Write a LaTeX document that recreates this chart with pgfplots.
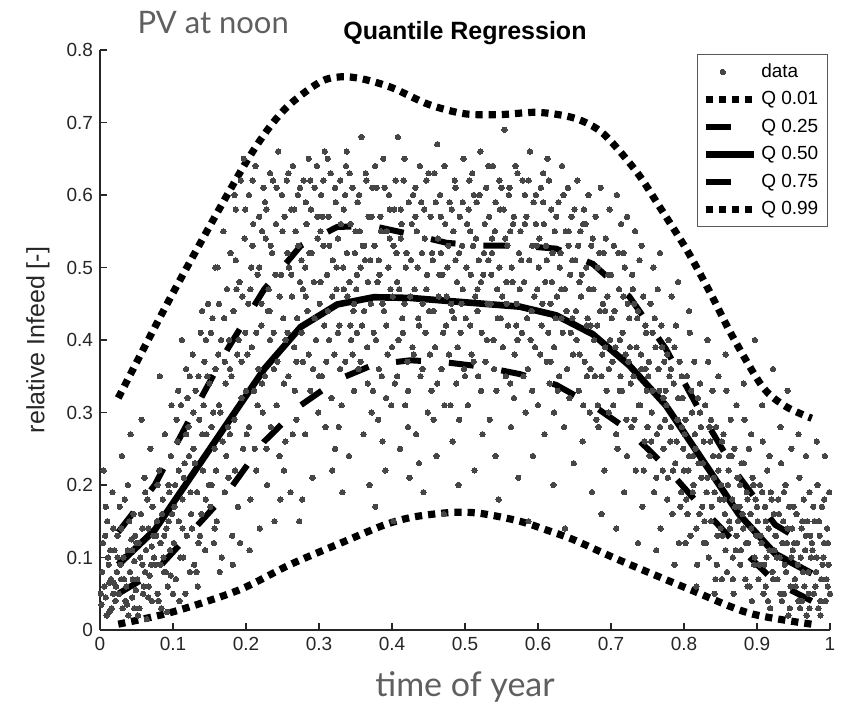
\documentclass[border=0pt]{standalone}
\usepackage{fontspec}
\setmainfont{Liberation Sans}
\newfontfamily\thinfont{Lato}
\usepackage{pgfplots}
\usepackage{pgfplotstable}
\pgfplotsset{compat=1.18}
\pgfplotsset{qleg/.style={legend image code/.code={\draw[##1] (0pt,0pt) -- (24pt,0pt);}}}

\definecolor{dotgray}{RGB}{70,70,70}
\definecolor{axgray}{RGB}{38,38,38}
\definecolor{lightttl}{RGB}{95,95,95}

% scattered data (time of year, relative infeed)
\pgfplotstableread[row sep=\\]{
x y\\
0.002 0.035\\ 0.004 0.12\\ 0.006 0.06\\ 0.008 0.045\\ 0.010 0.15\\ 0.012 0.09\\ 0.013 0.025\\ 0.015 0.07\\ 0.017 0.19\\ 0.018 0.05\\ 0.020 0.11\\ 0.021 0.04\\ 0.023 0.08\\ 0.024 0.13\\ 0.005 0.22\\ 0.016 0.03\\ 0.011 0.10\\ 0.019 0.065\\
0.026 0.05\\ 0.028 0.09\\ 0.029 0.14\\ 0.031 0.03\\ 0.033 0.07\\ 0.034 0.18\\ 0.036 0.06\\ 0.038 0.11\\ 0.039 0.02\\ 0.041 0.08\\ 0.043 0.125\\ 0.044 0.045\\ 0.046 0.16\\ 0.047 0.095\\ 0.049 0.055\\ 0.030 0.24\\ 0.042 0.27\\ 0.037 0.035\\ 0.048 0.13\\
0.051 0.07\\ 0.053 0.12\\ 0.054 0.03\\ 0.056 0.16\\ 0.058 0.09\\ 0.059 0.05\\ 0.061 0.21\\ 0.063 0.11\\ 0.064 0.015\\ 0.066 0.14\\ 0.068 0.075\\ 0.069 0.25\\ 0.071 0.04\\ 0.072 0.17\\ 0.074 0.10\\ 0.057 0.29\\ 0.067 0.06\\ 0.062 0.19\\ 0.073 0.13\\
0.076 0.09\\ 0.078 0.15\\ 0.079 0.05\\ 0.081 0.22\\ 0.083 0.12\\ 0.084 0.03\\ 0.086 0.18\\ 0.088 0.08\\ 0.089 0.27\\ 0.091 0.14\\ 0.093 0.06\\ 0.094 0.20\\ 0.096 0.11\\ 0.098 0.31\\ 0.099 0.16\\ 0.082 0.35\\ 0.092 0.025\\ 0.087 0.10\\ 0.097 0.24\\
0.101 0.12\\ 0.103 0.20\\ 0.104 0.07\\ 0.106 0.26\\ 0.108 0.15\\ 0.109 0.04\\ 0.111 0.31\\ 0.113 0.18\\ 0.114 0.10\\ 0.116 0.23\\ 0.118 0.36\\ 0.119 0.13\\ 0.121 0.28\\ 0.123 0.08\\ 0.124 0.19\\ 0.107 0.33\\ 0.117 0.05\\ 0.112 0.40\\ 0.122 0.24\\
0.126 0.14\\ 0.128 0.25\\ 0.129 0.09\\ 0.131 0.33\\ 0.133 0.19\\ 0.134 0.06\\ 0.136 0.29\\ 0.138 0.41\\ 0.139 0.16\\ 0.141 0.22\\ 0.143 0.37\\ 0.144 0.11\\ 0.146 0.27\\ 0.148 0.45\\ 0.149 0.20\\ 0.132 0.08\\ 0.142 0.31\\ 0.137 0.13\\ 0.147 0.35\\
0.151 0.17\\ 0.153 0.28\\ 0.154 0.43\\ 0.156 0.12\\ 0.158 0.36\\ 0.159 0.22\\ 0.161 0.50\\ 0.163 0.31\\ 0.164 0.08\\ 0.166 0.40\\ 0.168 0.26\\ 0.169 0.55\\ 0.171 0.19\\ 0.172 0.34\\ 0.174 0.47\\ 0.157 0.14\\ 0.167 0.10\\ 0.162 0.38\\ 0.173 0.24\\ 0.155 0.30\\
0.176 0.21\\ 0.178 0.36\\ 0.179 0.52\\ 0.181 0.13\\ 0.183 0.44\\ 0.184 0.29\\ 0.186 0.58\\ 0.188 0.38\\ 0.189 0.17\\ 0.191 0.48\\ 0.193 0.62\\ 0.194 0.32\\ 0.196 0.25\\ 0.198 0.54\\ 0.199 0.41\\ 0.182 0.09\\ 0.192 0.12\\ 0.187 0.47\\ 0.197 0.65\\ 0.177 0.40\\
0.201 0.27\\ 0.203 0.45\\ 0.204 0.60\\ 0.206 0.18\\ 0.208 0.39\\ 0.209 0.53\\ 0.211 0.33\\ 0.213 0.64\\ 0.214 0.22\\ 0.216 0.49\\ 0.218 0.57\\ 0.219 0.14\\ 0.221 0.42\\ 0.223 0.30\\ 0.224 0.61\\ 0.207 0.50\\ 0.217 0.36\\ 0.212 0.25\\ 0.222 0.55\\ 0.205 0.11\\
0.226 0.35\\ 0.228 0.58\\ 0.229 0.20\\ 0.231 0.47\\ 0.233 0.63\\ 0.234 0.28\\ 0.236 0.52\\ 0.238 0.41\\ 0.239 0.15\\ 0.241 0.56\\ 0.243 0.37\\ 0.244 0.66\\ 0.246 0.24\\ 0.248 0.49\\ 0.249 0.60\\ 0.232 0.44\\ 0.242 0.31\\ 0.237 0.62\\ 0.247 0.18\\ 0.227 0.54\\
0.251 0.43\\ 0.253 0.57\\ 0.254 0.26\\ 0.256 0.62\\ 0.258 0.35\\ 0.259 0.50\\ 0.261 0.19\\ 0.263 0.46\\ 0.264 0.64\\ 0.266 0.39\\ 0.268 0.55\\ 0.269 0.29\\ 0.271 0.60\\ 0.273 0.15\\ 0.274 0.48\\ 0.257 0.41\\ 0.267 0.33\\ 0.262 0.58\\ 0.272 0.53\\ 0.252 0.22\\
0.276 0.51\\ 0.278 0.37\\ 0.279 0.62\\ 0.281 0.27\\ 0.283 0.56\\ 0.284 0.44\\ 0.286 0.65\\ 0.288 0.33\\ 0.289 0.58\\ 0.291 0.21\\ 0.293 0.48\\ 0.294 0.61\\ 0.296 0.40\\ 0.298 0.54\\ 0.299 0.30\\ 0.282 0.46\\ 0.292 0.36\\ 0.287 0.52\\ 0.297 0.64\\ 0.277 0.18\\
0.301 0.45\\ 0.303 0.60\\ 0.304 0.35\\ 0.306 0.53\\ 0.308 0.66\\ 0.309 0.28\\ 0.311 0.49\\ 0.313 0.57\\ 0.314 0.40\\ 0.316 0.63\\ 0.318 0.22\\ 0.319 0.51\\ 0.321 0.38\\ 0.323 0.59\\ 0.324 0.47\\ 0.307 0.42\\ 0.317 0.32\\ 0.312 0.65\\ 0.322 0.25\\ 0.302 0.55\\
0.326 0.54\\ 0.328 0.42\\ 0.329 0.62\\ 0.331 0.31\\ 0.333 0.50\\ 0.334 0.58\\ 0.336 0.37\\ 0.338 0.66\\ 0.339 0.46\\ 0.341 0.24\\ 0.343 0.56\\ 0.344 0.40\\ 0.346 0.61\\ 0.348 0.33\\ 0.349 0.52\\ 0.332 0.19\\ 0.342 0.48\\ 0.337 0.64\\ 0.347 0.44\\ 0.327 0.28\\
0.351 0.47\\ 0.353 0.59\\ 0.354 0.36\\ 0.356 0.55\\ 0.358 0.68\\ 0.359 0.42\\ 0.361 0.27\\ 0.363 0.51\\ 0.364 0.63\\ 0.366 0.39\\ 0.368 0.57\\ 0.369 0.20\\ 0.371 0.45\\ 0.373 0.61\\ 0.374 0.33\\ 0.357 0.50\\ 0.367 0.48\\ 0.362 0.53\\ 0.372 0.30\\ 0.352 0.41\\
0.376 0.53\\ 0.378 0.40\\ 0.379 0.61\\ 0.381 0.29\\ 0.383 0.49\\ 0.384 0.57\\ 0.386 0.35\\ 0.388 0.65\\ 0.389 0.44\\ 0.391 0.22\\ 0.393 0.55\\ 0.394 0.38\\ 0.396 0.60\\ 0.398 0.47\\ 0.399 0.31\\ 0.382 0.51\\ 0.392 0.42\\ 0.387 0.26\\ 0.397 0.54\\ 0.377 0.17\\
0.401 0.46\\ 0.403 0.58\\ 0.404 0.34\\ 0.406 0.52\\ 0.408 0.68\\ 0.409 0.40\\ 0.411 0.25\\ 0.413 0.56\\ 0.414 0.43\\ 0.416 0.62\\ 0.418 0.31\\ 0.419 0.50\\ 0.421 0.37\\ 0.423 0.59\\ 0.424 0.21\\ 0.407 0.48\\ 0.417 0.45\\ 0.412 0.54\\ 0.422 0.28\\ 0.402 0.15\\
0.426 0.51\\ 0.428 0.39\\ 0.429 0.60\\ 0.431 0.47\\ 0.433 0.27\\ 0.434 0.55\\ 0.436 0.43\\ 0.438 0.64\\ 0.439 0.35\\ 0.441 0.52\\ 0.443 0.19\\ 0.444 0.58\\ 0.446 0.41\\ 0.448 0.49\\ 0.449 0.30\\ 0.432 0.57\\ 0.442 0.45\\ 0.437 0.23\\ 0.447 0.62\\
0.451 0.44\\ 0.453 0.57\\ 0.454 0.33\\ 0.456 0.51\\ 0.458 0.63\\ 0.459 0.39\\ 0.461 0.24\\ 0.463 0.54\\ 0.464 0.46\\ 0.466 0.60\\ 0.468 0.36\\ 0.469 0.49\\ 0.471 0.16\\ 0.473 0.56\\ 0.474 0.42\\ 0.457 0.29\\ 0.467 0.52\\ 0.462 0.67\\ 0.472 0.31\\
0.476 0.50\\ 0.478 0.38\\ 0.479 0.59\\ 0.481 0.45\\ 0.483 0.26\\ 0.484 0.55\\ 0.486 0.62\\ 0.488 0.34\\ 0.489 0.48\\ 0.491 0.20\\ 0.493 0.57\\ 0.494 0.41\\ 0.496 0.53\\ 0.498 0.65\\ 0.499 0.36\\ 0.482 0.44\\ 0.492 0.29\\ 0.487 0.51\\ 0.497 0.47\\
0.501 0.43\\ 0.503 0.56\\ 0.504 0.31\\ 0.506 0.62\\ 0.508 0.49\\ 0.509 0.38\\ 0.511 0.53\\ 0.513 0.22\\ 0.514 0.46\\ 0.516 0.59\\ 0.518 0.35\\ 0.519 0.51\\ 0.521 0.66\\ 0.523 0.41\\ 0.524 0.27\\ 0.507 0.55\\ 0.517 0.44\\ 0.512 0.60\\ 0.522 0.48\\
0.526 0.52\\ 0.528 0.37\\ 0.529 0.61\\ 0.531 0.45\\ 0.533 0.57\\ 0.534 0.29\\ 0.536 0.49\\ 0.538 0.64\\ 0.539 0.40\\ 0.541 0.55\\ 0.543 0.33\\ 0.544 0.47\\ 0.546 0.18\\ 0.548 0.58\\ 0.549 0.43\\ 0.532 0.51\\ 0.542 0.24\\ 0.537 0.54\\ 0.547 0.62\\
0.551 0.46\\ 0.553 0.58\\ 0.554 0.69\\ 0.556 0.35\\ 0.558 0.53\\ 0.559 0.42\\ 0.561 0.61\\ 0.563 0.28\\ 0.564 0.50\\ 0.566 0.56\\ 0.568 0.38\\ 0.569 0.64\\ 0.571 0.45\\ 0.573 0.21\\ 0.574 0.52\\ 0.557 0.48\\ 0.567 0.32\\ 0.562 0.55\\ 0.572 0.40\\
0.576 0.55\\ 0.578 0.41\\ 0.579 0.62\\ 0.581 0.48\\ 0.583 0.30\\ 0.584 0.57\\ 0.586 0.36\\ 0.588 0.51\\ 0.589 0.66\\ 0.591 0.44\\ 0.593 0.24\\ 0.594 0.59\\ 0.596 0.39\\ 0.598 0.53\\ 0.599 0.47\\ 0.582 0.60\\ 0.592 0.33\\ 0.587 0.15\\ 0.597 0.56\\
0.601 0.50\\ 0.603 0.38\\ 0.604 0.61\\ 0.606 0.45\\ 0.608 0.56\\ 0.609 0.27\\ 0.611 0.53\\ 0.613 0.65\\ 0.614 0.41\\ 0.616 0.34\\ 0.618 0.58\\ 0.619 0.48\\ 0.621 0.20\\ 0.623 0.55\\ 0.624 0.43\\ 0.607 0.63\\ 0.617 0.37\\ 0.612 0.51\\ 0.622 0.30\\
0.626 0.46\\ 0.628 0.59\\ 0.629 0.35\\ 0.631 0.52\\ 0.633 0.64\\ 0.634 0.41\\ 0.636 0.28\\ 0.638 0.55\\ 0.639 0.44\\ 0.641 0.61\\ 0.643 0.32\\ 0.644 0.49\\ 0.646 0.57\\ 0.648 0.38\\ 0.649 0.23\\ 0.632 0.47\\ 0.642 0.53\\ 0.637 0.14\\ 0.647 0.43\\
0.651 0.51\\ 0.653 0.40\\ 0.654 0.62\\ 0.656 0.33\\ 0.658 0.55\\ 0.659 0.46\\ 0.661 0.26\\ 0.663 0.58\\ 0.664 0.37\\ 0.666 0.50\\ 0.668 0.43\\ 0.669 0.60\\ 0.671 0.30\\ 0.673 0.53\\ 0.674 0.19\\ 0.657 0.48\\ 0.667 0.35\\ 0.662 0.56\\ 0.672 0.42\\
0.676 0.47\\ 0.678 0.35\\ 0.679 0.57\\ 0.681 0.42\\ 0.683 0.28\\ 0.684 0.52\\ 0.686 0.61\\ 0.688 0.38\\ 0.689 0.45\\ 0.691 0.22\\ 0.693 0.54\\ 0.694 0.33\\ 0.696 0.49\\ 0.698 0.58\\ 0.699 0.40\\ 0.682 0.31\\ 0.692 0.44\\ 0.687 0.16\\ 0.697 0.36\\
0.701 0.43\\ 0.703 0.31\\ 0.704 0.53\\ 0.706 0.39\\ 0.708 0.60\\ 0.709 0.25\\ 0.711 0.47\\ 0.713 0.35\\ 0.714 0.56\\ 0.716 0.41\\ 0.718 0.19\\ 0.719 0.50\\ 0.721 0.29\\ 0.723 0.45\\ 0.724 0.37\\ 0.707 0.14\\ 0.717 0.52\\ 0.712 0.33\\ 0.722 0.57\\
0.726 0.39\\ 0.728 0.28\\ 0.729 0.49\\ 0.731 0.35\\ 0.733 0.55\\ 0.734 0.22\\ 0.736 0.43\\ 0.738 0.31\\ 0.739 0.51\\ 0.741 0.38\\ 0.743 0.17\\ 0.744 0.46\\ 0.746 0.26\\ 0.748 0.41\\ 0.749 0.33\\ 0.732 0.45\\ 0.742 0.53\\ 0.737 0.12\\ 0.747 0.36\\
0.751 0.35\\ 0.753 0.24\\ 0.754 0.45\\ 0.756 0.30\\ 0.758 0.50\\ 0.759 0.19\\ 0.761 0.39\\ 0.763 0.27\\ 0.764 0.47\\ 0.766 0.33\\ 0.768 0.14\\ 0.769 0.42\\ 0.771 0.22\\ 0.773 0.37\\ 0.774 0.29\\ 0.757 0.41\\ 0.767 0.52\\ 0.762 0.11\\ 0.772 0.32\\
0.776 0.31\\ 0.778 0.21\\ 0.779 0.40\\ 0.781 0.26\\ 0.783 0.46\\ 0.784 0.16\\ 0.786 0.34\\ 0.788 0.23\\ 0.789 0.42\\ 0.791 0.29\\ 0.793 0.12\\ 0.794 0.37\\ 0.796 0.19\\ 0.798 0.32\\ 0.799 0.25\\ 0.782 0.36\\ 0.792 0.48\\ 0.787 0.09\\ 0.797 0.28\\ 0.777 0.38\\
0.801 0.27\\ 0.803 0.18\\ 0.804 0.35\\ 0.806 0.22\\ 0.808 0.41\\ 0.809 0.13\\ 0.811 0.30\\ 0.813 0.20\\ 0.814 0.37\\ 0.816 0.25\\ 0.818 0.09\\ 0.819 0.32\\ 0.821 0.16\\ 0.823 0.28\\ 0.824 0.21\\ 0.807 0.44\\ 0.817 0.06\\ 0.812 0.24\\ 0.822 0.34\\ 0.802 0.12\\
0.826 0.23\\ 0.828 0.15\\ 0.829 0.31\\ 0.831 0.19\\ 0.833 0.37\\ 0.834 0.10\\ 0.836 0.26\\ 0.838 0.17\\ 0.839 0.33\\ 0.841 0.21\\ 0.843 0.07\\ 0.844 0.28\\ 0.846 0.13\\ 0.848 0.24\\ 0.849 0.18\\ 0.832 0.40\\ 0.842 0.05\\ 0.837 0.29\\ 0.847 0.35\\ 0.827 0.12\\
0.851 0.20\\ 0.853 0.13\\ 0.854 0.27\\ 0.856 0.16\\ 0.858 0.33\\ 0.859 0.08\\ 0.861 0.22\\ 0.863 0.14\\ 0.864 0.29\\ 0.866 0.18\\ 0.868 0.05\\ 0.869 0.25\\ 0.871 0.11\\ 0.873 0.21\\ 0.874 0.15\\ 0.857 0.38\\ 0.867 0.10\\ 0.862 0.24\\ 0.872 0.31\\ 0.852 0.07\\
0.876 0.17\\ 0.878 0.11\\ 0.879 0.23\\ 0.881 0.14\\ 0.883 0.29\\ 0.884 0.07\\ 0.886 0.19\\ 0.888 0.12\\ 0.889 0.25\\ 0.891 0.16\\ 0.893 0.04\\ 0.894 0.21\\ 0.896 0.09\\ 0.898 0.18\\ 0.899 0.13\\ 0.882 0.34\\ 0.892 0.27\\ 0.887 0.06\\ 0.897 0.40\\ 0.877 0.20\\
0.901 0.15\\ 0.903 0.09\\ 0.904 0.20\\ 0.906 0.12\\ 0.908 0.26\\ 0.909 0.05\\ 0.911 0.17\\ 0.913 0.10\\ 0.914 0.22\\ 0.916 0.14\\ 0.918 0.03\\ 0.919 0.19\\ 0.921 0.08\\ 0.923 0.16\\ 0.924 0.11\\ 0.907 0.31\\ 0.917 0.24\\ 0.912 0.06\\ 0.922 0.36\\
0.926 0.13\\ 0.928 0.07\\ 0.929 0.18\\ 0.931 0.10\\ 0.933 0.23\\ 0.934 0.04\\ 0.936 0.15\\ 0.938 0.09\\ 0.939 0.20\\ 0.941 0.12\\ 0.943 0.02\\ 0.944 0.17\\ 0.946 0.06\\ 0.948 0.14\\ 0.949 0.11\\ 0.932 0.28\\ 0.942 0.33\\ 0.937 0.05\\ 0.947 0.25\\
0.951 0.12\\ 0.953 0.06\\ 0.954 0.16\\ 0.956 0.09\\ 0.958 0.21\\ 0.959 0.03\\ 0.961 0.14\\ 0.963 0.08\\ 0.964 0.18\\ 0.966 0.11\\ 0.968 0.02\\ 0.969 0.15\\ 0.971 0.05\\ 0.973 0.13\\ 0.974 0.10\\ 0.957 0.27\\ 0.967 0.24\\ 0.962 0.04\\ 0.972 0.19\\
0.976 0.11\\ 0.978 0.05\\ 0.979 0.15\\ 0.981 0.08\\ 0.983 0.20\\ 0.984 0.03\\ 0.986 0.13\\ 0.988 0.07\\ 0.989 0.17\\ 0.991 0.10\\ 0.993 0.24\\ 0.994 0.04\\ 0.996 0.14\\ 0.998 0.09\\ 0.999 0.19\\ 0.982 0.26\\ 0.992 0.12\\ 0.987 0.02\\ 0.997 0.06\\
}\scatterdata

% further points where the cloud is densest
\pgfplotstableread[row sep=\\]{
x y\\
0.003 0.08\\ 0.007 0.13\\ 0.009 0.02\\ 0.014 0.11\\ 0.022 0.06\\ 0.027 0.17\\ 0.032 0.10\\ 0.035 0.04\\ 0.040 0.15\\ 0.045 0.07\\ 0.050 0.12\\ 0.052 0.02\\ 0.055 0.10\\ 0.060 0.06\\ 0.065 0.18\\ 0.070 0.09\\ 0.077 0.13\\ 0.080 0.04\\ 0.085 0.16\\ 0.090 0.08\\
0.095 0.19\\ 0.100 0.05\\ 0.008 0.17\\ 0.018 0.14\\ 0.029 0.07\\ 0.038 0.20\\ 0.047 0.03\\ 0.058 0.14\\ 0.066 0.045\\ 0.079 0.20\\ 0.088 0.13\\ 0.097 0.075\\ 0.001 0.05\\ 0.013 0.065\\ 0.024 0.10\\ 0.044 0.11\\ 0.062 0.08\\ 0.083 0.09\\ 0.094 0.15\\ 0.071 0.115\\
0.102 0.17\\ 0.105 0.29\\ 0.110 0.10\\ 0.115 0.21\\ 0.120 0.32\\ 0.125 0.16\\ 0.127 0.38\\ 0.130 0.23\\ 0.135 0.12\\ 0.140 0.27\\ 0.145 0.18\\ 0.150 0.34\\ 0.152 0.41\\ 0.157 0.25\\ 0.160 0.15\\ 0.165 0.30\\ 0.170 0.43\\ 0.175 0.28\\ 0.180 0.35\\ 0.185 0.22\\
0.190 0.40\\ 0.195 0.46\\ 0.200 0.33\\ 0.108 0.22\\ 0.118 0.27\\ 0.128 0.30\\ 0.135 0.35\\ 0.145 0.40\\ 0.153 0.20\\ 0.163 0.45\\ 0.171 0.37\\ 0.178 0.27\\ 0.186 0.51\\ 0.194 0.37\\ 0.199 0.58\\ 0.113 0.14\\ 0.123 0.35\\ 0.140 0.44\\ 0.158 0.50\\ 0.184 0.60\\
0.202 0.38\\ 0.206 0.47\\ 0.210 0.56\\ 0.214 0.41\\ 0.218 0.50\\ 0.222 0.34\\ 0.226 0.59\\ 0.230 0.44\\ 0.234 0.53\\ 0.238 0.36\\ 0.242 0.61\\ 0.246 0.46\\ 0.250 0.55\\ 0.254 0.40\\ 0.258 0.63\\ 0.262 0.49\\ 0.266 0.58\\ 0.270 0.43\\ 0.274 0.61\\ 0.278 0.47\\
0.282 0.59\\ 0.286 0.38\\ 0.290 0.52\\ 0.294 0.43\\ 0.298 0.57\\ 0.302 0.48\\ 0.306 0.62\\ 0.310 0.37\\ 0.314 0.53\\ 0.318 0.46\\ 0.322 0.61\\ 0.326 0.41\\ 0.330 0.56\\ 0.334 0.47\\ 0.338 0.52\\ 0.342 0.63\\ 0.346 0.38\\ 0.350 0.55\\ 0.204 0.28\\ 0.216 0.31\\
0.228 0.25\\ 0.240 0.49\\ 0.252 0.34\\ 0.264 0.27\\ 0.276 0.41\\ 0.288 0.62\\ 0.300 0.35\\ 0.312 0.44\\ 0.324 0.50\\ 0.336 0.60\\ 0.348 0.45\\ 0.209 0.62\\ 0.233 0.40\\ 0.257 0.52\\ 0.281 0.50\\ 0.305 0.57\\ 0.329 0.36\\ 0.343 0.42\\ 0.221 0.45\\ 0.269 0.37\\
0.352 0.49\\ 0.355 0.60\\ 0.357 0.37\\ 0.360 0.53\\ 0.362 0.44\\ 0.365 0.62\\ 0.367 0.34\\ 0.370 0.51\\ 0.372 0.57\\ 0.375 0.41\\ 0.377 0.64\\ 0.380 0.48\\ 0.382 0.36\\ 0.385 0.55\\ 0.387 0.45\\ 0.390 0.61\\ 0.392 0.32\\ 0.395 0.50\\ 0.397 0.58\\ 0.400 0.39\\
0.402 0.53\\ 0.405 0.62\\ 0.407 0.35\\ 0.410 0.47\\ 0.412 0.58\\ 0.415 0.41\\ 0.417 0.65\\ 0.420 0.52\\ 0.422 0.33\\ 0.425 0.46\\ 0.427 0.56\\ 0.430 0.38\\ 0.432 0.61\\ 0.435 0.50\\ 0.437 0.42\\ 0.440 0.59\\ 0.442 0.36\\ 0.445 0.54\\ 0.447 0.47\\ 0.450 0.63\\
0.452 0.38\\ 0.455 0.52\\ 0.457 0.44\\ 0.460 0.59\\ 0.462 0.34\\ 0.465 0.49\\ 0.467 0.57\\ 0.470 0.41\\ 0.472 0.64\\ 0.475 0.46\\ 0.477 0.53\\ 0.480 0.31\\ 0.482 0.58\\ 0.485 0.43\\ 0.487 0.61\\ 0.490 0.39\\ 0.492 0.52\\ 0.495 0.45\\ 0.497 0.59\\ 0.500 0.35\\
0.502 0.50\\ 0.505 0.58\\ 0.507 0.42\\ 0.510 0.63\\ 0.512 0.37\\ 0.515 0.54\\ 0.517 0.47\\ 0.520 0.60\\ 0.522 0.33\\ 0.525 0.49\\ 0.527 0.56\\ 0.530 0.40\\ 0.532 0.64\\ 0.535 0.45\\ 0.537 0.52\\ 0.540 0.36\\ 0.542 0.59\\ 0.545 0.43\\ 0.547 0.50\\ 0.550 0.61\\
0.552 0.39\\ 0.555 0.54\\ 0.557 0.45\\ 0.560 0.60\\ 0.562 0.34\\ 0.565 0.48\\ 0.567 0.57\\ 0.570 0.42\\ 0.572 0.63\\ 0.575 0.47\\ 0.577 0.51\\ 0.580 0.35\\ 0.582 0.56\\ 0.585 0.43\\ 0.587 0.62\\ 0.590 0.40\\ 0.592 0.53\\ 0.595 0.46\\ 0.597 0.60\\ 0.600 0.31\\
0.602 0.54\\ 0.605 0.42\\ 0.607 0.59\\ 0.610 0.48\\ 0.612 0.37\\ 0.615 0.62\\ 0.617 0.45\\ 0.620 0.52\\ 0.622 0.39\\ 0.625 0.57\\ 0.627 0.33\\ 0.630 0.50\\ 0.632 0.43\\ 0.635 0.60\\ 0.637 0.47\\ 0.640 0.36\\ 0.642 0.55\\ 0.645 0.41\\ 0.647 0.51\\ 0.650 0.58\\
0.652 0.44\\ 0.655 0.53\\ 0.657 0.38\\ 0.660 0.49\\ 0.662 0.31\\ 0.665 0.56\\ 0.667 0.42\\ 0.670 0.47\\ 0.672 0.36\\ 0.675 0.54\\ 0.677 0.40\\ 0.680 0.29\\ 0.682 0.50\\ 0.685 0.44\\ 0.687 0.35\\ 0.690 0.52\\ 0.692 0.39\\ 0.695 0.46\\ 0.697 0.30\\ 0.700 0.49\\
0.702 0.37\\ 0.705 0.44\\ 0.707 0.27\\ 0.710 0.52\\ 0.712 0.40\\ 0.715 0.33\\ 0.717 0.46\\ 0.720 0.38\\ 0.722 0.24\\ 0.725 0.43\\ 0.727 0.34\\ 0.730 0.47\\ 0.732 0.29\\ 0.735 0.39\\ 0.737 0.44\\ 0.740 0.31\\ 0.742 0.36\\ 0.745 0.22\\ 0.747 0.42\\ 0.750 0.28\\
0.752 0.37\\ 0.755 0.26\\ 0.757 0.33\\ 0.760 0.43\\ 0.762 0.21\\ 0.765 0.36\\ 0.767 0.28\\ 0.770 0.39\\ 0.772 0.25\\ 0.775 0.33\\ 0.777 0.18\\ 0.780 0.35\\ 0.782 0.28\\ 0.785 0.22\\ 0.787 0.39\\ 0.790 0.26\\ 0.792 0.32\\ 0.795 0.17\\ 0.797 0.35\\ 0.800 0.22\\
0.802 0.29\\ 0.805 0.16\\ 0.807 0.24\\ 0.810 0.33\\ 0.812 0.19\\ 0.815 0.27\\ 0.817 0.14\\ 0.820 0.23\\ 0.822 0.30\\ 0.825 0.17\\ 0.827 0.26\\ 0.830 0.12\\ 0.832 0.21\\ 0.835 0.28\\ 0.837 0.15\\ 0.840 0.24\\ 0.842 0.19\\ 0.845 0.09\\ 0.847 0.22\\ 0.850 0.14\\
0.852 0.26\\ 0.855 0.18\\ 0.857 0.11\\ 0.860 0.20\\ 0.862 0.15\\ 0.865 0.24\\ 0.867 0.07\\ 0.870 0.17\\ 0.872 0.13\\ 0.875 0.21\\ 0.877 0.09\\ 0.880 0.16\\ 0.882 0.23\\ 0.885 0.12\\ 0.887 0.18\\ 0.890 0.06\\ 0.892 0.14\\ 0.895 0.20\\ 0.897 0.10\\ 0.900 0.17\\
0.902 0.07\\ 0.905 0.13\\ 0.907 0.19\\ 0.910 0.09\\ 0.912 0.15\\ 0.915 0.04\\ 0.917 0.11\\ 0.920 0.18\\ 0.922 0.07\\ 0.925 0.13\\ 0.927 0.10\\ 0.930 0.16\\ 0.932 0.05\\ 0.935 0.12\\ 0.937 0.19\\ 0.940 0.08\\ 0.942 0.14\\ 0.945 0.03\\ 0.947 0.10\\ 0.950 0.17\\
0.952 0.07\\ 0.955 0.12\\ 0.957 0.04\\ 0.960 0.10\\ 0.962 0.15\\ 0.965 0.06\\ 0.967 0.13\\ 0.970 0.08\\ 0.972 0.03\\ 0.975 0.12\\ 0.977 0.17\\ 0.980 0.06\\ 0.982 0.10\\ 0.985 0.15\\ 0.987 0.04\\ 0.990 0.09\\ 0.992 0.18\\ 0.995 0.07\\ 0.997 0.12\\ 1.000 0.05\\
}\scatterdense

\begin{document}
\begin{tikzpicture}
\path[use as bounding box] (0,0) rectangle (424pt,352pt);
\begin{axis}[
    at={(50pt,37pt)}, anchor=south west,
    scale only axis, width=365pt, height=290pt,
    xmin=0, xmax=1, ymin=0, ymax=0.8,
    xtick={0,0.1,...,1}, ytick={0,0.1,...,0.8},
    axis x line=bottom, axis y line=left,
    axis line style={-, axgray, line width=0.7pt},
    tick align=inside, major tick length=3.5pt,
    tick style={axgray, line width=0.7pt},
    ticklabel style={font=\fontsize{9.5}{11}\selectfont, text=axgray},
    /pgf/number format/assume math mode=true,
    title={\bfseries Quantile Regression},
    title style={font=\fontsize{12.5}{14}\selectfont, at={(axis description cs:0.5,1)}, anchor=base, yshift=-0.5pt},
    xlabel={\thinfont time of year},
    xlabel style={font=\fontsize{17}{19}\selectfont, text=lightttl, at={(axis description cs:0.5,-0.114)}, anchor=base},
    ylabel={\normalfont relative Infeed [-]},
    ylabel style={font=\fontsize{12.5}{14}\selectfont, text=axgray, at={(axis description cs:-0.085,0.5)}, anchor=center},
    clip=false,
    legend style={at={(0.997,0.993)}, anchor=north east, draw=gray!70!black,
        line width=0.5pt, font=\fontsize{9.5}{11}\selectfont, row sep=1.6pt,
        inner sep=2.5pt},
    legend cell align=left,
]
\addplot[only marks, mark=*, mark size=1.35pt, color=dotgray, mark options={line width=0pt}] table {\scatterdata};
\addlegendentry{data}
\addplot[only marks, mark=*, mark size=1.35pt, color=dotgray, mark options={line width=0pt}, forget plot] table {\scatterdense};

% Q 0.01
\addplot[black, line width=3.6pt, dash pattern=on 3.6pt off 3pt, smooth, qleg] coordinates {
(0.025,0.008) (0.1,0.025) (0.19,0.055) (0.26,0.09) (0.33,0.12) (0.39,0.145) (0.43,0.156)
(0.48,0.162) (0.52,0.161) (0.575,0.15) (0.62,0.135) (0.65,0.124) (0.71,0.097) (0.81,0.055)
(0.89,0.023) (0.975,0.008)};
\addlegendentry{Q 0.01}

% Q 0.25
\addplot[black, line width=3pt, dash pattern=on 12.5pt off 14pt, qleg] coordinates {
(0.025,0.05) (0.075,0.08) (0.125,0.135) (0.175,0.19) (0.225,0.26) (0.275,0.31) (0.325,0.345)
(0.375,0.366) (0.425,0.372) (0.475,0.369) (0.525,0.363) (0.575,0.353) (0.625,0.338) (0.675,0.31)
(0.725,0.275) (0.775,0.225) (0.825,0.168) (0.875,0.115) (0.925,0.066) (0.975,0.04)};
\addlegendentry{Q 0.25}

% Q 0.50
\addplot[black, line width=3.3pt, qleg] coordinates {
(0.025,0.09) (0.075,0.138) (0.125,0.212) (0.175,0.286) (0.225,0.36) (0.275,0.418) (0.325,0.449)
(0.375,0.459) (0.425,0.458) (0.475,0.454) (0.525,0.45) (0.575,0.446) (0.625,0.434) (0.675,0.408)
(0.725,0.365) (0.775,0.31) (0.825,0.235) (0.875,0.16) (0.925,0.105) (0.975,0.078)};
\addlegendentry{Q 0.50}

% Q 0.75
\addplot[black, line width=3pt, dash pattern=on 12.5pt off 14pt, qleg] coordinates {
(0.025,0.135) (0.075,0.20) (0.125,0.295) (0.175,0.388) (0.225,0.47) (0.275,0.53) (0.325,0.556)
(0.375,0.557) (0.425,0.546) (0.475,0.534) (0.525,0.53) (0.575,0.53) (0.625,0.526) (0.675,0.505)
(0.725,0.46) (0.775,0.388) (0.825,0.296) (0.875,0.212) (0.925,0.145) (0.975,0.115)};
\addlegendentry{Q 0.75}

% Q 0.99
\addplot[black, line width=3.6pt, dash pattern=on 3.6pt off 3pt, smooth, qleg] coordinates {
(0.025,0.32) (0.1,0.465) (0.2,0.645) (0.25,0.715) (0.3,0.755) (0.33,0.763) (0.36,0.76)
(0.4,0.748) (0.45,0.725) (0.5,0.712) (0.55,0.711) (0.6,0.714) (0.65,0.706) (0.689,0.685)
(0.735,0.632) (0.767,0.583) (0.804,0.524) (0.836,0.465) (0.867,0.404) (0.908,0.335)
(0.94,0.308) (0.975,0.292)};
\addlegendentry{Q 0.99}

\node[font=\thinfont\fontsize{15.5}{18}\selectfont, text=lightttl] at (rel axis cs:0.155,1.048) {PV at noon};
\end{axis}
\end{tikzpicture}
\end{document}
